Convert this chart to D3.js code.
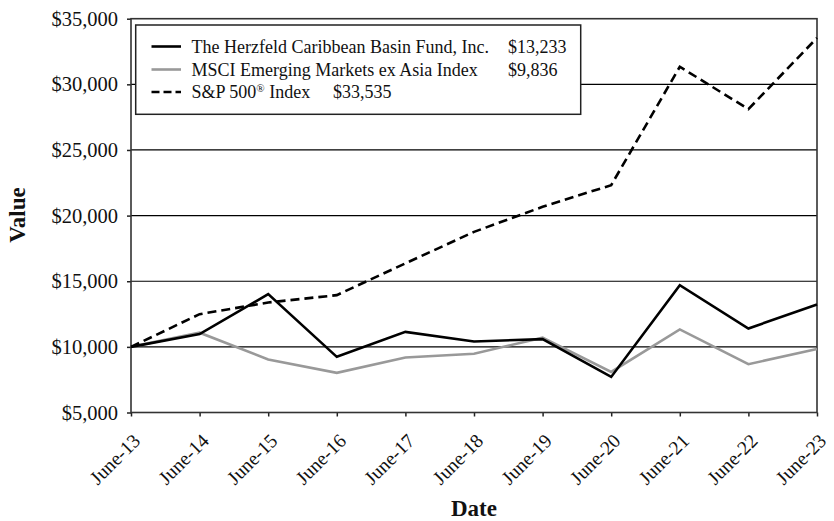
<!DOCTYPE html>
<html><head><meta charset="utf-8">
<script src="https://cdn.jsdelivr.net/npm/d3@7"></script>
<style>
html,body{margin:0;padding:0;background:#fff;}
svg{display:block;font-family:"Liberation Serif","Times New Roman",serif;}
</style></head>
<body><svg id="c" width="834" height="521"></svg>
<script>
const dates = ["June-13","June-14","June-15","June-16","June-17","June-18","June-19","June-20","June-21","June-22","June-23"];
const fund = [10000, 10970, 14020, 9240, 11140, 10410, 10590, 7710, 14700, 11400, 13233];
const msci = [10000, 11080, 9040, 8020, 9190, 9480, 10700, 8090, 11330, 8680, 9836];
const sp500 = [10000, 12490, 13380, 13940, 16360, 18760, 20670, 22320, 31340, 28110, 33535];
const yTicks = [5000, 10000, 15000, 20000, 25000, 30000, 35000];
const legendNames = ["The Herzfeld Caribbean Basin Fund, Inc.", "MSCI Emerging Markets ex Asia Index", "S&P 500"];
const legendValues = ["$13,233", "$9,836", "$33,535"];

const svg = d3.select("#c");
const L = 131, R = 817, T = 18.7, B = 412.5;
const x = d3.scalePoint().domain(dates).range([L, R]);
const y = d3.scaleLinear().domain([5000, 35000]).range([B, T]);
const fmt = v => "$" + d3.format(",")(v);

// gridlines
svg.append("g").selectAll("line").data(yTicks.slice(1, -1)).join("line")
  .attr("x1", L).attr("x2", R).attr("y1", d => y(d)).attr("y2", d => y(d))
  .attr("stroke", "#000").attr("stroke-width", 1.2);

// y axis
const ya = svg.append("g").attr("transform", `translate(${L},0)`)
  .call(d3.axisLeft(y).tickValues(yTicks).tickFormat(fmt).tickSize(4).tickPadding(9));
ya.select(".domain").remove();
ya.selectAll("line").attr("stroke", "#222").attr("stroke-width", 1.5);
ya.selectAll("text").attr("font-size", "20.5px").attr("fill", "#111").style("font-family", "Liberation Serif");

// x axis
const xa = svg.append("g").attr("transform", `translate(0,${B})`)
  .call(d3.axisBottom(x).tickSize(4).tickFormat(d => d));
xa.select(".domain").remove();
xa.selectAll("line").attr("stroke", "#222").attr("stroke-width", 1.5);
xa.selectAll("text").attr("font-size", "19.5px").attr("fill", "#111").style("font-family", "Liberation Serif")
  .attr("text-anchor", "end").attr("dy", null).attr("y", null)
  .attr("transform", "translate(10,29.5) rotate(-45)");

// frame
svg.append("rect").attr("x", L).attr("y", T).attr("width", R - L).attr("height", B - T)
  .attr("fill", "none").attr("stroke", "#333").attr("stroke-width", 1.6);

// lines
const line = d3.line().x((d, i) => x(dates[i])).y(d => y(d));
svg.append("path").datum(msci).attr("d", line).attr("fill", "none")
  .attr("stroke", "#999").attr("stroke-width", 2.6).attr("stroke-linejoin", "miter");
svg.append("path").datum(fund).attr("d", line).attr("fill", "none")
  .attr("stroke", "#000").attr("stroke-width", 2.6).attr("stroke-linejoin", "miter");
svg.append("path").datum(sp500).attr("d", line).attr("fill", "none")
  .attr("stroke", "#000").attr("stroke-width", 2.6).attr("stroke-dasharray", "9,5");

// legend
const lg = svg.append("g");
lg.append("rect").attr("x", 135.7).attr("y", 25).attr("width", 445).attr("height", 89.3)
  .attr("fill", "#fff").attr("stroke", "#222").attr("stroke-width", 1.5);
const styles = [{c: "#000", d: null}, {c: "#999", d: null}, {c: "#000", d: "8,4"}];
const rowY = [46.5, 69.5, 92];
const valX = [508, 508, 333];
legendNames.forEach((n, i) => {
  lg.append("line").attr("x1", 151.5).attr("x2", 181).attr("y1", rowY[i]).attr("y2", rowY[i])
    .attr("stroke", styles[i].c).attr("stroke-width", 2.6).attr("stroke-dasharray", styles[i].d);
  const t = lg.append("text").attr("x", 191.5).attr("y", rowY[i] + 6.2).attr("font-size", "18px").attr("fill", "#111").text(n);
  if (i === 2) {
    t.append("tspan").attr("font-size", "11px").attr("dy", -6.5).text("®");
    t.append("tspan").attr("dy", 6.5).text(" Index");
  }
  lg.append("text").attr("x", valX[i]).attr("y", rowY[i] + 6.2).attr("font-size", "18px").attr("fill", "#111").text(legendValues[i]);
});

// axis titles
svg.append("text").attr("x", 474).attr("y", 516).attr("text-anchor", "middle")
  .attr("font-size", "23px").attr("font-weight", "bold").attr("fill", "#111").text("Date");
svg.append("text").attr("transform", "translate(25,215) rotate(-90)").attr("text-anchor", "middle")
  .attr("font-size", "23px").attr("font-weight", "bold").attr("fill", "#111").text("Value");
</script></body></html>
